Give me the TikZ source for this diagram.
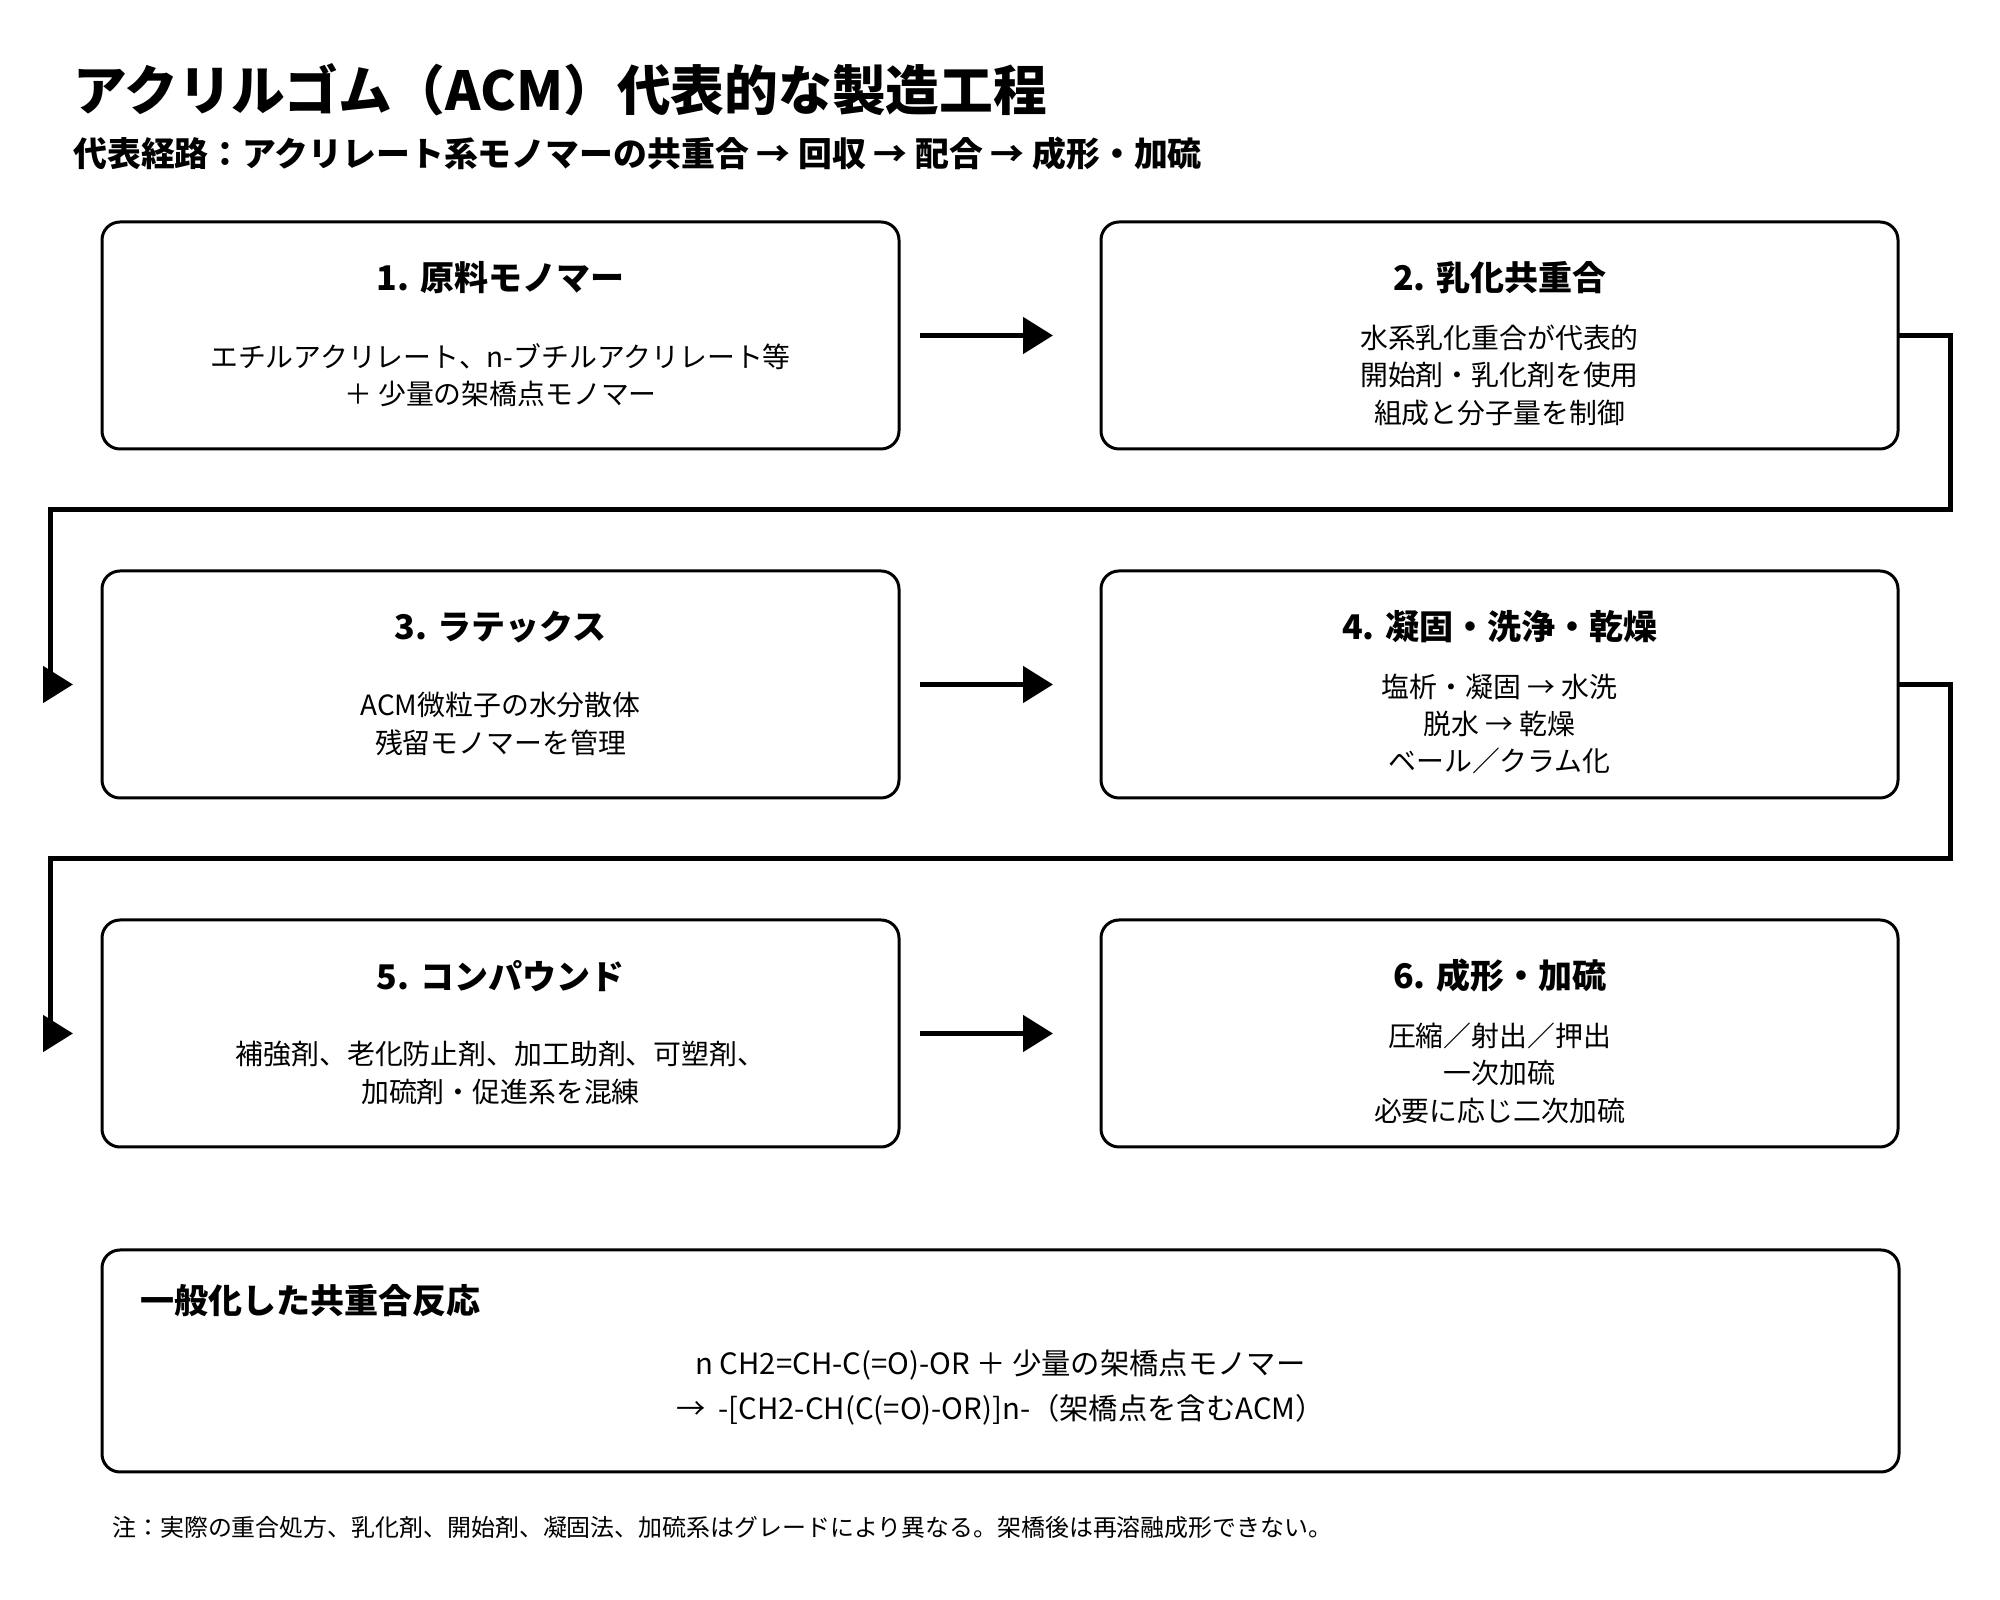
\documentclass[tikz,border=0pt]{standalone}
\usepackage{fontspec}
\setmainfont{Noto Sans CJK JP}
\usetikzlibrary{positioning, calc, arrows.meta}

\begin{document}
\begin{tikzpicture}[x=0.75pt, y=0.75pt, node distance=91.5pt and 151.5pt,
  step box/.style={draw, line width=2.25pt, rounded corners=13.5pt,
    minimum width=597.75pt, minimum height=170.25pt, outer sep=0pt, inner sep=0pt},
  head text/.style={inner sep=0pt, font=\fontsize{25.5pt}{30pt}\selectfont\bfseries},
  body text/.style={inner sep=0pt, align=center, font=\fontsize{20.9pt}{28.1pt}\selectfont},
  flow/.style={line width=3.75pt, -{Triangle[length=22.5pt, width=27pt]}}]

\useasboundingbox (0,0) rectangle (2000,1600);

% titles
\node[anchor=west, inner sep=0pt, font=\fontsize{40.3pt}{46pt}\selectfont\bfseries] (title) at (73,1510) {アクリルゴム（ACM）代表的な製造工程};
\node[anchor=west, inner sep=0pt, font=\fontsize{25.4pt}{30pt}\selectfont\bfseries] (sub) at (73,1446) {代表経路：アクリレート系モノマーの共重合 → 回収 → 配合 → 成形・加硫};

% process steps
\node[step box] (b1) at (500.5,1264.5) {};
\node[step box] (b2) [right=of b1] {};
\node[step box] (b3) [below=of b1] {};
\node[step box] (b4) [right=of b3] {};
\node[step box] (b5) [below=of b3] {};
\node[step box] (b6) [right=of b5] {};

\node[head text] (h1) at ([yshift=-42pt]b1.north) {1. 原料モノマー};
\node[head text] (h2) at ([yshift=-42pt]b2.north) {2. 乳化共重合};
\node[head text] (h3) at ([yshift=-42pt]b3.north) {3. ラテックス};
\node[head text] (h4) at ([yshift=-42pt]b4.north) {4. 凝固・洗浄・乾燥};
\node[head text] (h5) at ([yshift=-42pt]b5.north) {5. コンパウンド};
\node[head text] (h6) at ([yshift=-42pt]b6.north) {6. 成形・加硫};

\node[body text] (t1) at ([yshift=-114.75pt]b1.north) {エチルアクリレート、n-ブチルアクリレート等\\＋ 少量の架橋点モノマー};
\node[body text] (t2) at ([yshift=-114.75pt]b2.north) {水系乳化重合が代表的\\開始剤・乳化剤を使用\\組成と分子量を制御};
\node[body text] (t3) at ([yshift=-114.75pt]b3.north) {ACM微粒子の水分散体\\残留モノマーを管理};
\node[body text] (t4) at ([yshift=-114.75pt]b4.north) {塩析・凝固 → 水洗\\脱水 → 乾燥\\ベール／クラム化};
\node[body text] (t5) at ([yshift=-114.75pt]b5.north) {補強剤、老化防止剤、加工助剤、可塑剤、\\加硫剤・促進系を混練};
\node[body text] (t6) at ([yshift=-114.75pt]b6.north) {圧縮／射出／押出\\一次加硫\\必要に応じ二次加硫};

% connectors
\path[flow, shorten <=15.75pt, shorten >=36pt]
(b1.east) edge (b2.west)
(b3.east) edge (b4.west)
(b5.east) edge (b6.west)
;

\coordinate (gap1) at ($(b2.south)!0.5!(b4.north)$);
\coordinate (gap2) at ($(b4.south)!0.5!(b6.north)$);
\draw[flow, shorten >=21.75pt] (b2.east) -- ++(52,0) |- (gap1) -| ([xshift=-39pt]b3.west) -- (b3.west);
\draw[flow, shorten >=21.75pt] (b4.east) -- ++(52,0) |- (gap2) -| ([xshift=-39pt]b5.west) -- (b5.west);

% reaction
\node[step box, minimum width=1347.75pt, minimum height=166.5pt] (sum) [below right=77.25pt and 0pt of b5.south west] {};
\node[head text, anchor=west] (sumh) at ([xshift=28.5pt, yshift=-38.25pt]sum.north west) {一般化した共重合反応};
\node[body text, font=\fontsize{22pt}{33.75pt}\selectfont] (eq) at ([yshift=-103.1pt]sum.north) {n CH2=CH-C(=O)-OR ＋ 少量の架橋点モノマー\\→ \ -[CH2-CH(C(=O)-OR)]n-（架橋点を含むACM）};

\node[anchor=west, inner sep=0pt, font=\fontsize{17.95pt}{22pt}\selectfont] (note) at (112,73) {注：実際の重合処方、乳化剤、開始剤、凝固法、加硫系はグレードにより異なる。架橋後は再溶融成形できない。};

\end{tikzpicture}
\end{document}
